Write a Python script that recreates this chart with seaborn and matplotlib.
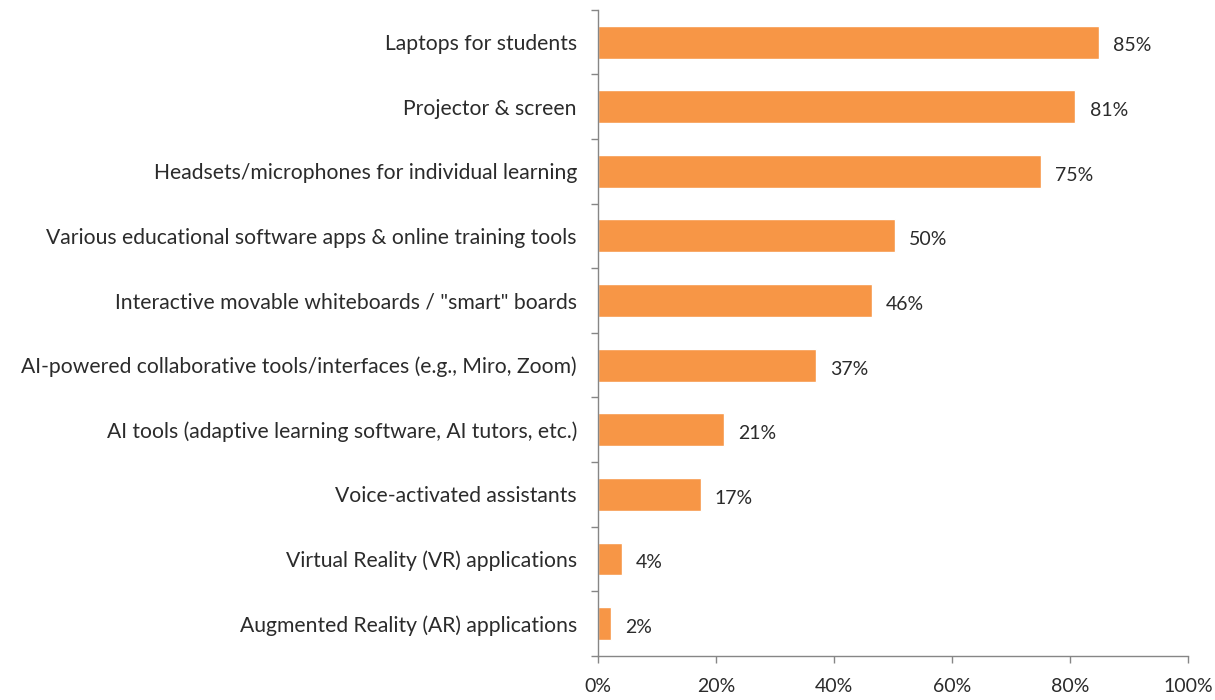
import matplotlib
matplotlib.use("Agg")
import matplotlib.pyplot as plt
import seaborn as sns
import pandas as pd
import numpy as np
from matplotlib.ticker import FixedLocator, PercentFormatter

categories = [
    "Laptops for students",
    "Projector & screen",
    "Headsets/microphones for individual learning",
    "Various educational software apps & online training tools",
    "Interactive movable whiteboards / \"smart\" boards",
    "AI-powered collaborative tools/interfaces (e.g., Miro, Zoom)",
    "AI tools (adaptive learning software, AI tutors, etc.)",
    "Voice-activated assistants",
    "Virtual Reality (VR) applications",
    "Augmented Reality (AR) applications",
]
values = [84.8, 80.9, 75.1, 50.3, 46.4, 36.9, 21.3, 17.4, 4.1, 2.2]
x_ticks = [0, 20, 40, 60, 80, 100]

sns.set_theme(style="white")
plt.rcParams["font.family"] = ["Lato", "DejaVu Sans"]

df = pd.DataFrame({"category": categories, "value": values})

fig = plt.figure(figsize=(12.15, 7.0), dpi=100)
ax = fig.add_axes([0.492, 0.063, 0.486, 0.923])

sns.barplot(data=df, y="category", x="value", orient="h", color="#F79646",
            saturation=1, width=0.51, ax=ax)

ax.set_xlim(0, 100)
ax.set_ylim(len(categories) - 0.5, -0.5)
ax.set_xlabel("")
ax.set_ylabel("")

ax.xaxis.set_major_locator(FixedLocator(x_ticks))
ax.xaxis.set_major_formatter(PercentFormatter(decimals=0))

spine_color = "#868686"
for s in ["top", "right"]:
    ax.spines[s].set_visible(False)
for s in ["left", "bottom"]:
    ax.spines[s].set_color(spine_color)
    ax.spines[s].set_linewidth(1.0)

text_color = "#2b2b2b"
ax.tick_params(axis="x", which="major", direction="out", length=5, width=1,
               color=spine_color, labelsize=14, labelcolor=text_color, pad=11,
               bottom=True)
ax.tick_params(axis="y", which="major", length=0, labelsize=15.2,
               labelcolor=text_color, pad=15, left=False)
ax.yaxis.set_minor_locator(FixedLocator(np.arange(-0.5, len(categories), 1.0)))
ax.tick_params(axis="y", which="minor", direction="out", length=5, width=1,
               color=spine_color, left=True)

for i, v in enumerate(values):
    ax.text(v + 2.4, i + 0.06, f"{round(v)}%", va="center", ha="left",
            fontsize=14, color=text_color)

fig.savefig("out.png", dpi=100)
